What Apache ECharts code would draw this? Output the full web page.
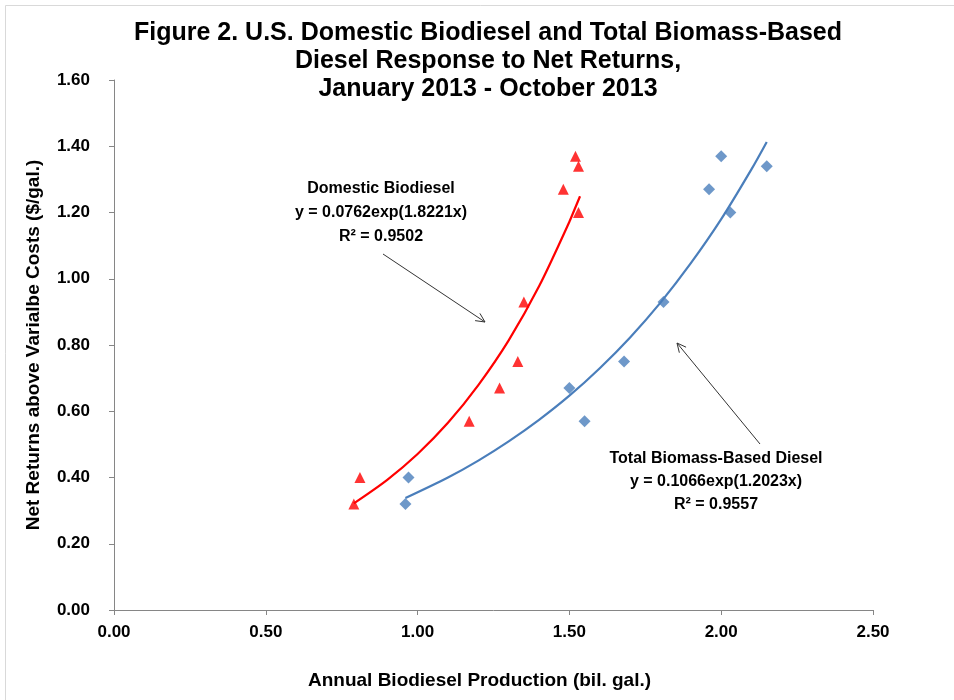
<!DOCTYPE html>
<html><head><meta charset="utf-8">
<script src="https://cdn.jsdelivr.net/npm/echarts@6/dist/echarts.min.js"></script>
<style>html,body{margin:0;padding:0;background:#fff}#c{width:954px;height:700px}</style>
</head><body><div id="c"></div>
<script>
const netReturns = [0.32, 0.40, 0.57, 0.67, 0.75, 0.93, 1.27, 1.37, 1.34, 1.20];
const domesticProd = [0.79, 0.81, 1.17, 1.27, 1.33, 1.35, 1.48, 1.52, 1.53, 1.53];
const totalProd = [0.96, 0.97, 1.55, 1.50, 1.68, 1.81, 1.96, 2.00, 2.15, 2.03];
// Trendline points
const domTrendX = [0.79, 0.90, 1.00, 1.10, 1.20, 1.30, 1.40, 1.50, 1.535];
const domTrendY = [0.322, 0.393, 0.471, 0.565, 0.679, 0.814, 0.977, 1.172, 1.249];
const totTrendX = [0.96, 1.10, 1.20, 1.30, 1.40, 1.50, 1.60, 1.70, 1.80, 1.90, 2.00, 2.10, 2.15];
const totTrendY = [0.338, 0.400, 0.451, 0.509, 0.574, 0.647, 0.730, 0.823, 0.928, 1.047, 1.180, 1.331, 1.413];
const titleLines = ['Figure 2. U.S. Domestic Biodiesel and Total Biomass-Based', 'Diesel Response to Net Returns,', 'January 2013 - October 2013'];
const domLabel = ['Domestic Biodiesel', 'y = 0.0762exp(1.8221x)', 'R² = 0.9502'];
const totLabel = ['Total Biomass-Based Diesel', 'y = 0.1066exp(1.2023x)', 'R² = 0.9557'];

const zip = (xs, ys) => xs.map((x, i) => [x, ys[i]]);
const F = 'Liberation Sans, Arial, sans-serif';
const RED = '#ff0000', BLUE = '#4a7ebb';

function arrow(x1, y1, x2, y2) {
  const a = Math.atan2(y2 - y1, x2 - x1), L = 10, w = 0.45;
  return [
    {type: 'line', shape: {x1, y1, x2, y2}, style: {stroke: '#333', lineWidth: 1}},
    {type: 'polyline', shape: {points: [
      [x2 - L * Math.cos(a - w), y2 - L * Math.sin(a - w)], [x2, y2],
      [x2 - L * Math.cos(a + w), y2 - L * Math.sin(a + w)]]},
      style: {stroke: '#333', lineWidth: 1, fill: null}}
  ];
}
function textBlock(lines, cx, y0, dy, size) {
  return lines.map((t, i) => ({type: 'text', x: cx, y: y0 + i * dy,
    style: {text: t, font: 'bold ' + size + 'px ' + F, fill: '#000', textAlign: 'center', textVerticalAlign: 'middle'}}));
}

const chart = echarts.init(document.getElementById('c'));
chart.setOption({
  backgroundColor: '#fff',
  animation: false,
  grid: {left: 114, right: 81, top: 80, bottom: 90},
  xAxis: {
    type: 'value', min: 0, max: 2.5, interval: 0.5,
    name: 'Annual Biodiesel Production (bil. gal.)', nameLocation: 'middle', nameGap: 61,
    nameTextStyle: {fontFamily: F, fontWeight: 'bold', fontSize: 19, color: '#000', padding: [0, 28, 0, 0]},
    axisLine: {show: true, lineStyle: {color: '#868686'}},
    axisTick: {show: true, length: 5, lineStyle: {color: '#868686'}},
    axisLabel: {formatter: v => v.toFixed(2), fontFamily: F, fontWeight: 'bold', fontSize: 17, color: '#000', margin: 14},
    splitLine: {show: false}
  },
  yAxis: {
    type: 'value', min: 0, max: 1.6, interval: 0.2,
    name: 'Net Returns above Varialbe Costs ($/gal.)', nameLocation: 'middle', nameGap: 71, nameRotate: 90,
    nameTextStyle: {fontFamily: F, fontWeight: 'bold', fontSize: 19, color: '#000'},
    axisLine: {show: true, lineStyle: {color: '#868686'}},
    axisTick: {show: true, length: 5, lineStyle: {color: '#868686'}},
    axisLabel: {formatter: v => v.toFixed(2), fontFamily: F, fontWeight: 'bold', fontSize: 17, color: '#000', margin: 24},
    splitLine: {show: false}
  },
  series: [
    {type: 'line', data: zip(domTrendX, domTrendY), smooth: 0.3, showSymbol: false, lineStyle: {color: RED, width: 2.2}, z: 2},
    {type: 'line', data: zip(totTrendX, totTrendY), smooth: 0.3, showSymbol: false, lineStyle: {color: BLUE, width: 2.2}, z: 2},
    {type: 'scatter', data: zip(domesticProd, netReturns), symbol: 'triangle', symbolSize: 11, itemStyle: {color: RED}, z: 3},
    {type: 'scatter', data: zip(totalProd, netReturns), symbol: 'diamond', symbolSize: 12, itemStyle: {color: BLUE}, z: 3}
  ],
  graphic: [
    {type: 'rect', shape: {x: 5.5, y: 5.5, width: 1000, height: 1000}, style: {stroke: '#d9d9d9', fill: null, lineWidth: 1}, z: -1},
    ...textBlock(titleLines, 488, 33, 28, 25),
    ...textBlock(domLabel, 381, 189, 24, 16),
    ...textBlock(totLabel, 716, 459, 23, 16),
    ...arrow(383, 254, 485, 322),
    ...arrow(760, 444, 677, 343)
  ]
});
</script></body></html>
